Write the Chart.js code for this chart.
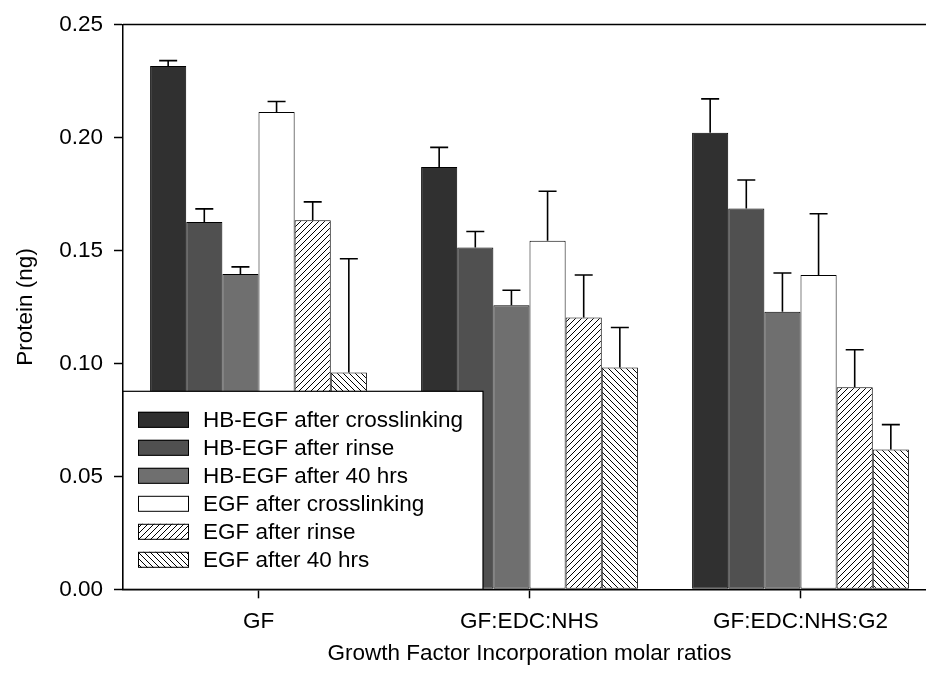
<!DOCTYPE html>
<html lang="en">

<head>
    <meta charset="UTF-8">
    <title>Protein by growth factor incorporation</title>
    <script src="https://cdn.jsdelivr.net/npm/chart.js@4.4.0/dist/chart.umd.min.js"></script>
    <style>
        html, body { margin: 0; padding: 0; background: #fff; overflow: hidden; }
    </style>
</head>

<body>
    <canvas id="myChart" width="936" height="685"></canvas>
    <script>
        var categories = ['GF', 'GF:EDC:NHS', 'GF:EDC:NHS:G2'];
        var yTicks = [0.00, 0.05, 0.10, 0.15, 0.20, 0.25];

        var hbCrosslink = [0.2316, 0.1869, 0.2021];
        var hbRinse = [0.1626, 0.1513, 0.1685];
        var hb40hrs = [0.1396, 0.1257, 0.1229];
        var egfCrosslink = [0.2113, 0.1543, 0.1391];
        var egfRinse = [0.1634, 0.1203, 0.0894];
        var egf40hrs = [0.0960, 0.0982, 0.0619];

        // upper error bars (SD)
        var hbCrosslinkErr = [0.0024, 0.0087, 0.0150];
        var hbRinseErr = [0.0058, 0.0071, 0.0127];
        var hb40hrsErr = [0.0031, 0.0067, 0.0171];
        var egfCrosslinkErr = [0.0046, 0.0219, 0.0271];
        var egfRinseErr = [0.0081, 0.0188, 0.0166];
        var egf40hrsErr = [0.0503, 0.0177, 0.0110];

        var fontFamily = '"Liberation Sans", Arial, sans-serif';
        var fontSize = 22.5;

        function hatch(dir) {
            var c = document.createElement('canvas');
            c.width = 6;
            c.height = 6;
            var g = c.getContext('2d');
            g.fillStyle = '#fff';
            g.fillRect(0, 0, 6, 6);
            g.strokeStyle = '#000';
            g.lineWidth = 1;
            g.beginPath();
            if (dir === '/') {
                g.moveTo(-1, 7); g.lineTo(7, -1);
                g.moveTo(-1, 1); g.lineTo(1, -1);
                g.moveTo(5, 7); g.lineTo(7, 5);
            } else {
                g.moveTo(-1, -1); g.lineTo(7, 7);
                g.moveTo(5, -1); g.lineTo(7, 1);
                g.moveTo(-1, 5); g.lineTo(1, 7);
            }
            g.stroke();
            return g.createPattern(c, 'repeat');
        }

        function series(label, data, err, fill) {
            return {
                label: label,
                data: data,
                err: err,
                backgroundColor: fill,
                borderColor: '#000',
                borderWidth: 1,
                borderSkipped: false
            };
        }

        const errorBars = {
            id: 'errorBars',
            afterDatasetsDraw(chart) {
                const ctx = chart.ctx;
                const y = chart.scales.y;
                ctx.save();
                ctx.strokeStyle = '#000';
                ctx.lineWidth = 1.6;
                chart.data.datasets.forEach(function (ds, i) {
                    chart.getDatasetMeta(i).data.forEach(function (bar, j) {
                        const top = y.getPixelForValue(ds.data[j] + ds.err[j]);
                        ctx.beginPath();
                        ctx.moveTo(bar.x, bar.y);
                        ctx.lineTo(bar.x, top);
                        ctx.moveTo(bar.x - 9, top);
                        ctx.lineTo(bar.x + 9, top);
                        ctx.stroke();
                    });
                });
                ctx.restore();
            }
        };

        const legendBox = {
            id: 'legendBox',
            afterDatasetsDraw(chart) {
                const ctx = chart.ctx;
                const area = chart.chartArea;
                const w = 360, h = 198;
                const x0 = area.left, y0 = area.bottom - h;
                ctx.save();
                ctx.fillStyle = '#fff';
                ctx.fillRect(x0, y0, w, h);
                ctx.strokeStyle = '#000';
                ctx.lineWidth = 1.2;
                ctx.strokeRect(x0, y0, w, h);
                ctx.font = fontSize + 'px ' + fontFamily;
                ctx.textBaseline = 'middle';
                chart.data.datasets.forEach(function (ds, i) {
                    const cy = y0 + 28.5 + i * 28;
                    ctx.fillStyle = ds.backgroundColor;
                    ctx.fillRect(x0 + 15, cy - 8, 51, 16);
                    ctx.lineWidth = 1;
                    ctx.strokeRect(x0 + 15.5, cy - 7.5, 50, 15);
                    ctx.fillStyle = '#000';
                    ctx.fillText(ds.label, x0 + 80, cy + 1);
                });
                ctx.restore();
            }
        };

        const topFrame = {
            id: 'topFrame',
            afterDraw(chart) {
                const ctx = chart.ctx;
                const area = chart.chartArea;
                ctx.save();
                ctx.strokeStyle = '#000';
                ctx.lineWidth = 1.5;
                ctx.beginPath();
                ctx.moveTo(area.left, area.top);
                ctx.lineTo(area.right, area.top);
                ctx.stroke();
                ctx.restore();
            }
        };

        Chart.defaults.font.family = fontFamily;
        Chart.defaults.font.size = fontSize;
        Chart.defaults.color = '#000';

        var ctx = document.getElementById('myChart');
        var myChart = new Chart(ctx, {
            type: 'bar',
            data: {
                labels: categories,
                datasets: [
                    series('HB-EGF after crosslinking', hbCrosslink, hbCrosslinkErr, '#303030'),
                    series('HB-EGF after rinse', hbRinse, hbRinseErr, '#505050'),
                    series('HB-EGF after 40 hrs', hb40hrs, hb40hrsErr, '#6f6f6f'),
                    series('EGF after crosslinking', egfCrosslink, egfCrosslinkErr, '#ffffff'),
                    series('EGF after rinse', egfRinse, egfRinseErr, hatch('/')),
                    series('EGF after 40 hrs', egf40hrs, egf40hrsErr, hatch('\\'))
                ]
            },
            options: {
                responsive: false,
                animation: false,
                layout: { padding: { top: 22.7, left: 0, right: 0, bottom: 0 } },
                datasets: {
                    bar: { categoryPercentage: 0.8, barPercentage: 1.0 }
                },
                plugins: {
                    legend: { display: false },
                    tooltip: { enabled: false }
                },
                scales: {
                    x: {
                        z: 1,
                        afterFit: function (scale) { scale.height = 95.7; },
                        grid: { display: true, drawOnChartArea: false, offset: false, tickLength: 9, tickWidth: 1.5, tickColor: '#000' },
                        border: { display: true, color: '#000', width: 1.5 },
                        ticks: { padding: 10, maxRotation: 0 },
                        title: {
                            display: true,
                            text: 'Growth Factor Incorporation molar ratios',
                            padding: { bottom: 18 }
                        }
                    },
                    y: {
                        z: 1,
                        min: 0,
                        max: 0.25,
                        afterFit: function (scale) { scale.width = 123; },
                        afterBuildTicks: function (scale) {
                            scale.ticks = yTicks.map(function (v) { return { value: v }; });
                        },
                        grid: { display: true, drawOnChartArea: false, tickLength: 9, tickWidth: 1.5, tickColor: '#000' },
                        border: { display: true, color: '#000', width: 1.5 },
                        ticks: {
                            padding: 11,
                            callback: function (v) { return v.toFixed(2); }
                        },
                        title: {
                            display: true,
                            text: 'Protein (ng)',
                            padding: { top: 12 }
                        }
                    }
                }
            },
            plugins: [errorBars, legendBox, topFrame]
        });
    </script>
</body>

</html>
